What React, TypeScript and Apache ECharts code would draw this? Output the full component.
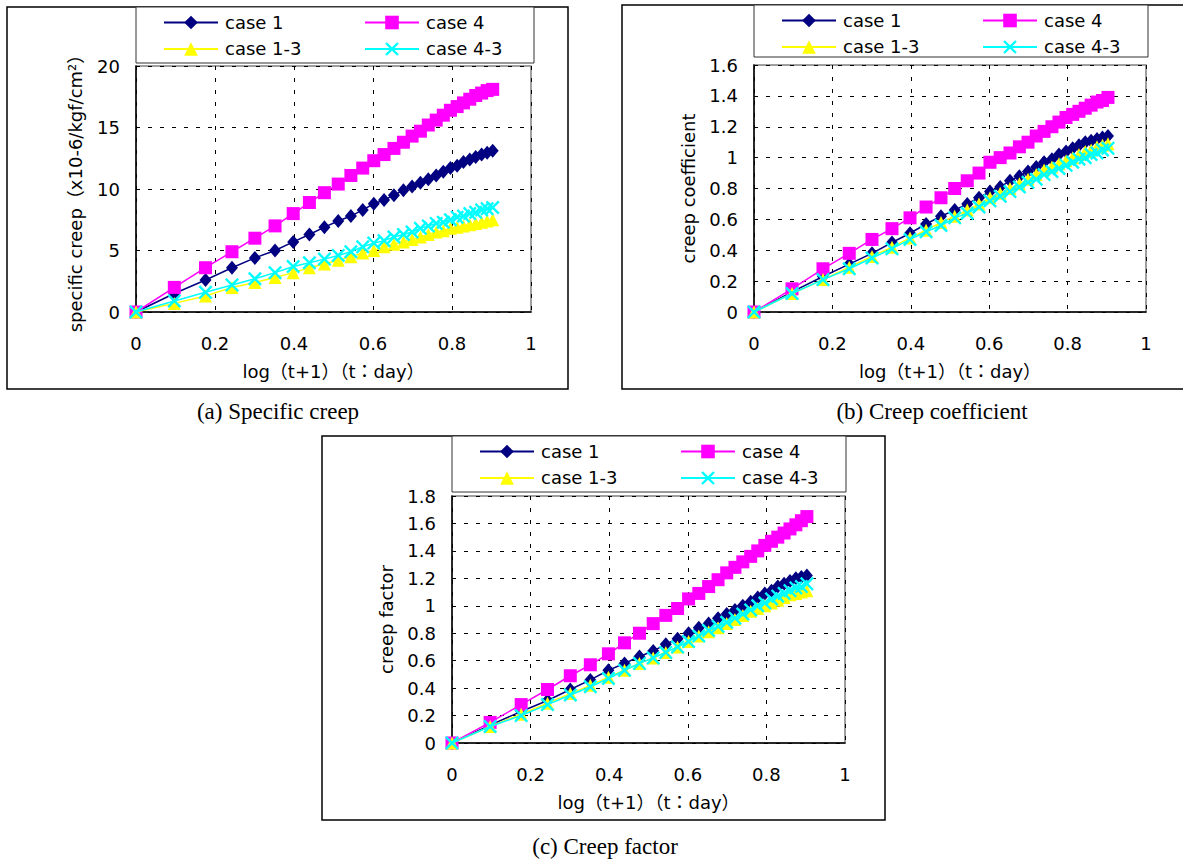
import React, { useEffect, useRef } from "react";
import * as echarts from "echarts";

// x = log(t+1), t : day
const X_LOG = [0, 0.097, 0.176, 0.243, 0.301, 0.352, 0.398, 0.439, 0.477, 0.512, 0.544, 0.574, 0.602, 0.628, 0.653, 0.677, 0.699, 0.72, 0.74, 0.76, 0.778, 0.796, 0.813, 0.829, 0.845, 0.86, 0.875, 0.889, 0.903];

const SERIES_NAMES = ["case 1", "case 4", "case 1-3", "case 4-3"];
const X_TICKS = [0, 0.2, 0.4, 0.6, 0.8, 1];

// (a) specific creep
const SC_CASE1 = [0, 1.5, 2.6, 3.6, 4.4, 5.0, 5.7, 6.3, 6.9, 7.4, 7.8, 8.3, 8.8, 9.1, 9.5, 9.9, 10.2, 10.5, 10.8, 11.1, 11.4, 11.7, 11.9, 12.2, 12.4, 12.6, 12.8, 12.95, 13.1];
const SC_CASE4 = [0, 2.0, 3.6, 4.9, 6.0, 7.0, 8.0, 8.9, 9.7, 10.4, 11.1, 11.7, 12.3, 12.8, 13.3, 13.8, 14.3, 14.7, 15.2, 15.6, 16.0, 16.4, 16.7, 17.0, 17.3, 17.6, 17.8, 18.0, 18.1];
const SC_CASE13 = [0, 0.7, 1.3, 2.0, 2.4, 2.8, 3.2, 3.6, 3.9, 4.2, 4.5, 4.8, 5.0, 5.3, 5.5, 5.7, 5.9, 6.1, 6.3, 6.5, 6.6, 6.8, 6.9, 7.0, 7.1, 7.2, 7.3, 7.4, 7.5];
const SC_CASE43 = [0, 0.9, 1.6, 2.2, 2.7, 3.2, 3.7, 4.0, 4.3, 4.6, 4.9, 5.3, 5.6, 5.8, 6.1, 6.3, 6.5, 6.8, 7.0, 7.2, 7.3, 7.5, 7.7, 7.8, 8.0, 8.1, 8.3, 8.4, 8.5];

// (b) creep coefficient
const CC_CASE1 = [0, 0.13, 0.23, 0.31, 0.38, 0.45, 0.51, 0.57, 0.62, 0.66, 0.7, 0.74, 0.78, 0.81, 0.85, 0.88, 0.91, 0.94, 0.97, 0.99, 1.02, 1.04, 1.06, 1.08, 1.1, 1.11, 1.12, 1.13, 1.14];
const CC_CASE4 = [0, 0.15, 0.28, 0.38, 0.47, 0.54, 0.61, 0.68, 0.74, 0.8, 0.85, 0.9, 0.97, 1.0, 1.03, 1.07, 1.1, 1.14, 1.17, 1.2, 1.23, 1.26, 1.28, 1.3, 1.32, 1.34, 1.36, 1.37, 1.39];
const CC_CASE13 = [0, 0.12, 0.21, 0.29, 0.36, 0.42, 0.48, 0.53, 0.58, 0.62, 0.66, 0.7, 0.74, 0.77, 0.8, 0.83, 0.86, 0.89, 0.92, 0.94, 0.96, 0.98, 1.0, 1.02, 1.04, 1.05, 1.07, 1.08, 1.09];
const CC_CASE43 = [0, 0.12, 0.21, 0.28, 0.35, 0.41, 0.47, 0.52, 0.56, 0.61, 0.64, 0.68, 0.72, 0.75, 0.78, 0.81, 0.84, 0.86, 0.89, 0.91, 0.93, 0.95, 0.97, 0.99, 1.0, 1.02, 1.03, 1.05, 1.06];

// (c) creep factor
const CF_CASE1 = [0, 0.13, 0.23, 0.31, 0.39, 0.46, 0.53, 0.58, 0.63, 0.67, 0.72, 0.76, 0.8, 0.84, 0.87, 0.91, 0.94, 0.97, 1.0, 1.03, 1.06, 1.09, 1.11, 1.14, 1.16, 1.18, 1.2, 1.21, 1.22];
const CF_CASE4 = [0, 0.15, 0.28, 0.39, 0.49, 0.57, 0.65, 0.73, 0.8, 0.87, 0.93, 0.98, 1.05, 1.09, 1.14, 1.19, 1.24, 1.28, 1.32, 1.36, 1.4, 1.44, 1.47, 1.5, 1.53, 1.56, 1.59, 1.62, 1.65];
const CF_CASE13 = [0, 0.12, 0.21, 0.29, 0.36, 0.42, 0.48, 0.53, 0.58, 0.62, 0.66, 0.7, 0.74, 0.78, 0.81, 0.84, 0.87, 0.9, 0.93, 0.96, 0.98, 1.0, 1.02, 1.04, 1.06, 1.08, 1.09, 1.1, 1.11];
const CF_CASE43 = [0, 0.12, 0.2, 0.28, 0.35, 0.41, 0.47, 0.53, 0.58, 0.62, 0.66, 0.7, 0.74, 0.78, 0.82, 0.85, 0.88, 0.91, 0.94, 0.97, 1.0, 1.02, 1.05, 1.07, 1.09, 1.11, 1.13, 1.14, 1.16];

const CAPTIONS = ["(a) Specific creep", "(b) Creep coefficient", "(c) Creep factor"];
const Y_NAMES = ["specific creep（x10-6/kgf/cm²）", "creep coefficient", "creep factor"];
const X_NAME = "log（t+1）（t：day）";

const SANS = "DejaVu Sans, Liberation Sans, Noto Sans CJK JP, sans-serif";
const SERIF = "Liberation Serif, Times New Roman, serif";
const FS = 18;

const COLORS = ["#000080", "#FF00FF", "#FFFF00", "#00FFFF"];
const SYMBOLS = [
  "diamond",
  "rect",
  "triangle",
  "path://M0,1.2L1.2,0L5,3.8L8.8,0L10,1.2L6.2,5L10,8.8L8.8,10L5,6.2L1.2,10L0,8.8L3.8,5Z",
];
const SYMBOL_SIZES: any[] = [[12, 14], 13, 13, 14];

const PANELS = [
  {
    values: [SC_CASE1, SC_CASE4, SC_CASE13, SC_CASE43],
    grid: { left: 136, top: 66, width: 395, height: 246 },
    yMax: 20, yInterval: 5, yNameGap: 52,
    frame: { x: 7, y: 7, w: 561, h: 382 },
    legendBox: { x: 136, y: 7, w: 398, h: 56 },
    caption: { x: 278, y: 411 },
  },
  {
    values: [CC_CASE1, CC_CASE4, CC_CASE13, CC_CASE43],
    grid: { left: 754, top: 65, width: 392, height: 247 },
    yMax: 1.6, yInterval: 0.2, yNameGap: 57,
    frame: { x: 622, y: 5, w: 600, h: 384 },
    legendBox: { x: 754, y: 5, w: 394, h: 52 },
    caption: { x: 932, y: 411 },
  },
  {
    values: [CF_CASE1, CF_CASE4, CF_CASE13, CF_CASE43],
    grid: { left: 452, top: 496, width: 393, height: 247 },
    yMax: 1.8, yInterval: 0.2, yNameGap: 57,
    frame: { x: 322, y: 436, w: 563, h: 384 },
    legendBox: { x: 452, y: 436, w: 394, h: 56 },
    caption: { x: 605, y: 846 },
  },
];

export default function App() {
  const ref = useRef<HTMLDivElement>(null);
  useEffect(() => {
    if (!ref.current) return;
    const chart = echarts.init(ref.current, undefined, { renderer: "svg" });

    const grids: any[] = [];
    const xAxes: any[] = [];
    const yAxes: any[] = [];
    const series: any[] = [];
    const legends: any[] = [];
    const graphics: any[] = [];

    PANELS.forEach((p, pi) => {
      grids.push({
        ...p.grid,
        show: true,
        borderColor: "#808080",
        borderWidth: 1.5,
        backgroundColor: "transparent",
      });
      xAxes.push({
        type: "value",
        gridIndex: pi,
        min: X_TICKS[0],
        max: X_TICKS[X_TICKS.length - 1],
        interval: X_TICKS[1] - X_TICKS[0],
        name: X_NAME,
        nameLocation: "middle",
        nameGap: 50,
        nameTextStyle: { fontFamily: SANS, fontSize: FS, color: "#000" },
        axisLine: { show: true, onZero: false, lineStyle: { color: "#000", width: 1.5 } },
        axisTick: { show: false },
        axisLabel: { margin: 22, fontFamily: SANS, fontSize: FS, color: "#000" },
        splitLine: { show: true, lineStyle: { color: "#000", width: 1, type: [4, 8] } },
      });
      yAxes.push({
        type: "value",
        gridIndex: pi,
        min: 0,
        max: p.yMax,
        interval: p.yInterval,
        name: Y_NAMES[pi],
        nameLocation: "middle",
        nameGap: p.yNameGap,
        nameTextStyle: { fontFamily: SANS, fontSize: FS, color: "#000" },
        axisLine: { show: true, onZero: false, lineStyle: { color: "#000", width: 1.5 } },
        axisTick: { show: false },
        axisLabel: { margin: 16, fontFamily: SANS, fontSize: FS, color: "#000" },
        splitLine: { show: true, lineStyle: { color: "#000", width: 1, type: [4, 8] } },
      });

      SERIES_NAMES.forEach((name, si) => {
        series.push({
          name,
          type: "line",
          xAxisIndex: pi,
          yAxisIndex: pi,
          symbol: SYMBOLS[si],
          symbolSize: SYMBOL_SIZES[si],
          showAllSymbol: true,
          color: COLORS[si],
          itemStyle: { color: COLORS[si] },
          lineStyle: { color: COLORS[si], width: 1.5 },
          data: X_LOG.map((x, k) => [x, p.values[si][k]]),
          z: 3 + si,
        });
      });

      const lb = p.legendBox;
      graphics.push({
        type: "rect",
        shape: { x: p.frame.x, y: p.frame.y, width: p.frame.w, height: p.frame.h },
        style: { fill: "none", stroke: "#000", lineWidth: 1.5 },
        z: 0,
      });
      graphics.push({
        type: "rect",
        shape: { x: lb.x, y: lb.y, width: lb.w, height: lb.h },
        style: { fill: "#fff", stroke: "#333", lineWidth: 1 },
        z: 1,
      });
      graphics.push({
        type: "text",
        x: p.caption.x,
        y: p.caption.y,
        style: {
          text: CAPTIONS[pi],
          fontFamily: SERIF,
          fontSize: 23,
          fill: "#000",
          textAlign: "center",
          textVerticalAlign: "middle",
        },
      });

      SERIES_NAMES.forEach((name, si) => {
        const col = si % 2;
        const row = Math.floor(si / 2);
        legends.push({
          data: [name],
          left: lb.x + 27 + col * 201,
          top: lb.y + 15.5 + row * 26.5 - 9,
          padding: 0,
          itemWidth: 54,
          itemHeight: 17,
          itemGap: 0,
          selectedMode: false,
          textStyle: { fontFamily: SANS, fontSize: FS, color: "#000", padding: [0, 0, 0, 2] },
        });
      });
    });

    chart.setOption({
      animation: false,
      backgroundColor: "#fff",
      grid: grids,
      xAxis: xAxes,
      yAxis: yAxes,
      legend: legends,
      series,
      graphic: { elements: graphics },
    });
    return () => chart.dispose();
  }, []);

  return (
    <div
      ref={ref}
      style={{ position: "absolute", left: 0, top: 0, width: 1183, height: 859, background: "#fff" }}
    />
  );
}
